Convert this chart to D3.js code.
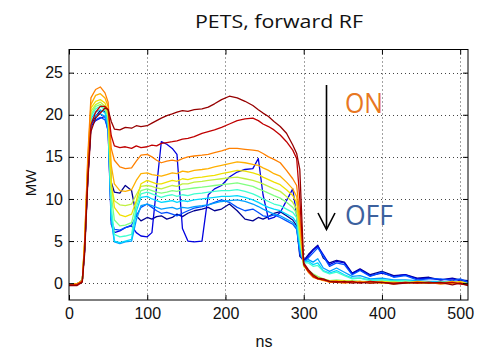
<!DOCTYPE html>
<html><head><meta charset="utf-8">
<script src="https://cdn.jsdelivr.net/npm/d3@7"></script>
<style>body{margin:0;background:#fff;} svg{display:block;}</style>
</head><body>
<svg id="c" width="481" height="354"></svg>
<script>
// ---- data ----
const times = [0,10,17,20,24,28,34,40,46,50, 54,58,65,72,80,86,92,100,106,112, 118,125,132,138,145,152,160,170,178,186, 195,205,215,225,235,242,248,255,262,270, 278,286,291,295,300,306,312,318,325,333, 342,352,362,372,385,400,415,430,445,460, 475,490,500,510];

const dr1 = [-0.3,-0.3,0.1,3.5,12.0,18.0,19.6,20.2,20.8,20.6, 19.2,18.3,18.2,18.5,18.4,18.7,18.6,18.7,19.0,19.3, 19.6,19.9,20.1,20.3,20.5,20.4,20.6,20.7,20.9,21.3, 21.8,22.2,22.0,21.6,21.1,20.6,20.2,19.8,19.2,18.6, 17.8,16.4,15.4,13.5,2.4,1.6,1.0,0.6,0.5,0.2, 0.1,0.2,0.0,0.1,0.0,0.1,-0.1,0.0,0.1,0.0, 0.1,-0.2,0.0,-0.3];
const dr2 = [-0.2,-0.2,0.2,4.0,12.5,18.8,20.3,21.0,21.0,20.6, 17.5,16.3,16.1,16.2,16.0,16.3,16.1,16.2,16.4,16.3, 16.6,16.7,16.8,16.9,17.1,17.2,17.4,17.8,18.0,18.2, 18.5,18.9,19.3,19.5,19.6,19.3,18.9,18.6,18.2,17.6, 16.8,15.8,14.8,10.0,2.2,1.4,0.8,0.5,0.4,0.2, 0.2,0.1,0.2,0.0,0.2,0.1,0.0,0.1,0.0,0.1, 0.0,0.1,-0.1,-0.2];
const orng = [-0.2,-0.1,0.3,5.0,15.0,22.0,23.0,23.3,22.6,21.5, 16.0,14.6,13.8,13.6,13.7,14.5,15.2,15.3,15.0,14.6, 14.3,14.5,14.6,14.5,14.8,15.0,15.1,15.2,15.3,15.5, 15.7,16.0,16.0,15.9,15.8,15.7,15.4,15.0,14.7,14.3, 13.4,12.4,11.6,8.0,2.2,1.3,0.7,0.5,0.4,0.1, 0.1,0.0,0.1,0.2,0.0,0.1,-0.1,0.1,0.0,0.1, -0.1,0.0,0.1,-0.2];
const yorg = [-0.2,-0.1,0.3,5.0,14.5,21.2,22.3,22.5,22.0,21.0, 14.0,11.8,11.0,10.9,11.1,12.2,13.0,13.1,12.9,12.8, 12.7,12.9,13.1,13.0,13.3,13.2,13.4,13.5,13.6,13.8, 14.0,14.2,14.4,14.3,14.1,14.0,13.7,13.4,13.0,12.7, 12.0,11.2,10.3,7.0,2.3,1.3,0.8,0.5,0.3,0.2, 0.2,0.2,0.1,0.1,0.2,0.0,0.1,0.0,0.2,0.1, 0.0,0.2,0.0,-0.1];
const yell = [-0.2,-0.1,0.3,4.8,14.0,20.8,21.6,21.8,21.4,20.4, 12.0,9.0,8.1,7.9,8.2,9.8,11.8,12.2,12.0,11.8, 11.8,12.0,12.2,12.1,12.4,12.3,12.5,12.6,12.7,12.8, 13.0,13.2,13.4,13.3,13.1,12.9,12.6,12.3,12.0,11.7, 11.1,10.4,9.6,6.5,2.2,1.4,0.9,0.6,0.4,0.2, 0.3,0.2,0.2,0.1,0.1,0.2,0.0,0.1,0.1,0.0, 0.1,0.0,0.2,-0.1];
const ygrn = [-0.2,-0.1,0.3,4.6,13.6,20.4,21.2,21.5,21.0,20.0, 11.5,9.8,9.3,9.2,9.4,10.5,11.5,11.6,11.5,11.3, 11.2,11.4,11.6,11.5,11.8,11.8,12.0,12.1,12.2,12.3, 12.4,12.5,12.6,12.4,12.2,12.0,11.8,11.5,11.2,10.9, 10.3,9.6,8.8,6.0,2.0,1.4,1.0,0.7,0.5,0.3, 0.3,0.3,0.2,0.2,0.1,0.2,0.1,0.0,0.1,0.0, 0.1,0.1,0.0,-0.1];
const grn = [-0.2,-0.1,0.3,4.5,13.4,20.0,21.0,21.2,20.8,19.8, 10.5,7.5,6.8,6.9,7.2,9.5,11.0,11.2,11.0,10.8, 10.7,10.8,11.0,10.9,11.1,11.2,11.3,11.4,11.5,11.6, 11.7,11.8,11.9,11.7,11.5,11.2,11.0,10.7,10.4,10.1, 9.6,9.0,8.3,5.5,2.0,1.5,1.1,0.8,0.5,0.3, 0.4,0.3,0.3,0.2,0.2,0.1,0.2,0.1,0.1,0.0, 0.1,0.0,0.1,-0.1];
const cyn1 = [-0.2,-0.1,0.3,4.4,13.2,19.8,20.7,21.0,20.6,19.5, 9.0,5.8,5.5,5.6,5.8,9.0,10.6,10.8,10.6,10.4, 10.2,10.4,10.5,10.3,10.5,10.4,10.6,10.7,10.8,10.9, 11.0,11.0,11.1,10.9,10.6,10.3,10.0,9.7,9.4,9.2, 8.8,8.4,7.8,5.0,2.4,2.4,2.0,2.1,1.4,1.1, 1.3,0.9,0.5,0.6,0.3,0.4,0.2,0.3,0.1,0.1, 0.1,0.1,0.0,-0.1];
const cyn2 = [-0.2,-0.1,0.3,4.3,13.0,19.5,20.3,20.6,20.2,19.0, 8.0,5.0,4.8,5.0,5.2,8.5,10.2,10.3,10.0,9.8, 9.6,9.7,9.8,9.6,9.8,9.7,9.9,10.0,10.1,10.2, 10.3,10.3,10.4,10.2,9.9,9.6,9.3,9.0,8.8,8.6, 8.2,7.8,7.2,4.5,2.5,2.6,2.2,2.4,1.5,1.2, 1.5,1.0,0.6,0.6,0.4,0.4,0.3,0.3,0.2,0.1, 0.1,0.2,0.0,-0.1];
const lblu = [-0.2,-0.1,0.3,4.2,12.8,19.2,19.9,20.1,19.8,18.6, 7.5,4.9,4.7,4.9,5.0,7.5,9.2,9.4,9.2,9.0, 8.8,8.9,9.0,8.8,9.0,8.9,9.1,9.2,9.3,9.5, 9.7,9.8,9.9,9.7,9.4,9.1,8.8,8.5,8.2,8.0, 7.6,7.2,6.6,4.0,2.6,2.8,2.5,2.9,1.8,1.4, 1.8,1.3,0.8,0.9,0.5,0.6,0.4,0.4,0.3,0.2, 0.2,0.1,0.1,0.0];
const blue = [-0.2,-0.1,0.3,4.0,12.5,18.8,19.4,19.7,19.4,18.2, 7.5,6.4,6.3,6.6,6.9,8.0,9.0,9.4,9.0,8.6, 8.3,8.4,8.2,8.0,8.3,8.6,8.9,9.1,9.3,9.6, 9.9,9.6,9.0,8.6,8.8,8.4,8.0,7.9,8.1,7.8, 7.4,7.0,6.4,3.5,2.5,3.0,3.6,4.2,3.2,2.0, 2.4,2.2,1.0,1.5,0.8,1.3,0.7,0.9,0.4,0.5, 0.5,0.3,0.5,0.1];
const navy1 = [-0.2,-0.1,0.3,4.0,12.4,18.6,19.3,19.6,19.8,18.0, 7.0,6.0,6.2,6.6,6.8,6.0,5.6,5.5,6.0,11.5, 16.8,16.5,16.0,15.3,6.5,5.0,4.9,5.0,10.5,11.2, 11.6,12.6,13.2,13.5,13.6,14.8,10.5,7.6,7.8,8.4, 9.8,11.2,8.0,4.0,2.6,3.2,3.9,4.4,3.4,2.2, 2.6,2.4,1.1,1.6,0.9,1.2,0.8,1.0,0.5,0.6, 0.4,0.5,0.3,0.2];
const navy2 = [-0.2,-0.1,0.3,4.0,12.3,18.8,19.8,20.5,20.4,19.5, 12.0,10.8,10.7,11.6,11.0,8.0,7.4,7.8,7.6,7.9, 8.0,7.6,7.8,8.2,7.9,8.3,8.6,8.8,9.0,8.6, 8.8,9.4,8.6,7.6,7.4,7.8,7.6,7.9,8.3,8.5, 8.0,7.5,6.8,3.2,2.7,3.4,4.0,4.5,3.0,2.4, 2.7,2.5,1.2,1.7,1.0,1.4,0.9,1.0,0.6,0.7, 0.4,0.6,0.4,0.3];

const seriesValues = [navy2, navy1, blue, lblu, cyn2, cyn1, grn, ygrn, yell, yorg, orng, dr2, dr1];
const xTicks = [0, 100, 200, 300, 400, 500];
const yTicks = [0, 5, 10, 15, 20, 25];
const titleText = "PETS, forward RF";
const xLabel = "ns";
const yLabel = "MW";
const labelOn = "ON";
const labelOff = "OFF";

// ---- styles ----
const colors = ["#000090", "#0000e0", "#0050ff", "#00a0ff", "#00d8ff", "#40ffd0", "#80ff80", "#c0f040", "#f0e000", "#ffb000", "#ff8000", "#c00000", "#960000"];

const svg = d3.select("#c");
const M = {l: 69, r: 468, t: 49.5, b: 300};
const x = d3.scaleLinear().domain([0, 510]).range([M.l, M.r]);
const y = d3.scaleLinear().domain([-2, 27.75]).range([M.b, M.t]);
const tickFont = "'Liberation Sans Narrow', 'Liberation Sans', Arial, sans-serif";

// grid
const grid = svg.append("g").attr("stroke", "#444").attr("stroke-width", 1).attr("stroke-dasharray", "1,3");
grid.selectAll("line.v").data(xTicks.filter(d => d > 0)).join("line")
  .attr("x1", d => Math.round(x(d)) + 0.5).attr("x2", d => Math.round(x(d)) + 0.5)
  .attr("y1", M.t).attr("y2", M.b);
grid.selectAll("line.h").data(yTicks).join("line")
  .attr("y1", d => Math.round(y(d)) + 0.5).attr("y2", d => Math.round(y(d)) + 0.5)
  .attr("x1", M.l).attr("x2", M.r);

// lines
svg.append("clipPath").attr("id", "clip").append("rect")
  .attr("x", M.l).attr("y", M.t).attr("width", M.r - M.l).attr("height", M.b - M.t);
const line = d3.line().x((d, i) => x(times[i])).y(d => y(d));
svg.append("g").attr("clip-path", "url(#clip)")
  .selectAll("path").data(seriesValues).join("path")
  .attr("d", d => line(d)).attr("fill", "none")
  .attr("stroke", (d, i) => colors[i]).attr("stroke-width", 1.3)
  .attr("stroke-linejoin", "round");

// axes
const fmt = d3.format("d");
const gx = svg.append("g").attr("transform", `translate(0,${M.b})`)
  .call(d3.axisBottom(x).tickValues(xTicks).tickFormat(fmt).tickSizeInner(-5).tickSizeOuter(0).tickPadding(8));
const gxt = svg.append("g").attr("transform", `translate(0,${M.t})`)
  .call(d3.axisTop(x).tickValues(xTicks).tickFormat("").tickSizeInner(-5).tickSizeOuter(0));
const gy = svg.append("g").attr("transform", `translate(${M.l},0)`)
  .call(d3.axisLeft(y).tickValues(yTicks).tickFormat(fmt).tickSizeInner(-5).tickSizeOuter(0).tickPadding(6));
const gyr = svg.append("g").attr("transform", `translate(${M.r},0)`)
  .call(d3.axisRight(y).tickValues(yTicks).tickFormat("").tickSizeInner(-5).tickSizeOuter(0));
[gx, gxt, gy, gyr].forEach(g => {
  g.select(".domain").remove();
  g.selectAll(".tick line").attr("stroke", "#000");
  g.selectAll("text").attr("font-family", tickFont).attr("font-size", 16).attr("fill", "#111");
});
svg.append("rect").attr("x", M.l).attr("y", M.t).attr("width", M.r - M.l).attr("height", M.b - M.t)
  .attr("fill", "none").attr("stroke", "#000").attr("stroke-width", 1);

// axis labels
svg.append("text").attr("x", 264).attr("y", 347).attr("text-anchor", "middle")
  .attr("font-family", tickFont).attr("font-size", 16).attr("fill", "#111").text(xLabel);
svg.append("text").attr("transform", "translate(36,183) rotate(-90)").attr("text-anchor", "middle")
  .attr("font-family", tickFont).attr("font-size", 15).attr("fill", "#111").text(yLabel);

// title
svg.append("text").attr("x", 279).attr("y", 28).attr("text-anchor", "middle")
  .attr("font-family", "'Open Sans', sans-serif").attr("font-size", 19).attr("fill", "#111")
  .attr("textLength", 168).attr("lengthAdjust", "spacingAndGlyphs").text(titleText);

// annotation arrow
svg.append("line").attr("x1", 326.5).attr("x2", 326.5).attr("y1", 85).attr("y2", 229)
  .attr("stroke", "#000").attr("stroke-width", 1.6);
svg.append("path").attr("d", "M318,213 L326.5,229.5 L335,213").attr("fill", "none")
  .attr("stroke", "#000").attr("stroke-width", 1.6);
svg.append("text").attr("x", 345).attr("y", 113).attr("font-family", "'Open Sans', sans-serif")
  .attr("font-size", 28).attr("fill", "#e87722").attr("textLength", 38).attr("lengthAdjust", "spacingAndGlyphs").text(labelOn);
svg.append("text").attr("x", 345).attr("y", 225).attr("font-family", "'Open Sans', sans-serif")
  .attr("font-size", 28).attr("fill", "#3c619e").attr("textLength", 48).attr("lengthAdjust", "spacingAndGlyphs").text(labelOff);
</script>
</body></html>
